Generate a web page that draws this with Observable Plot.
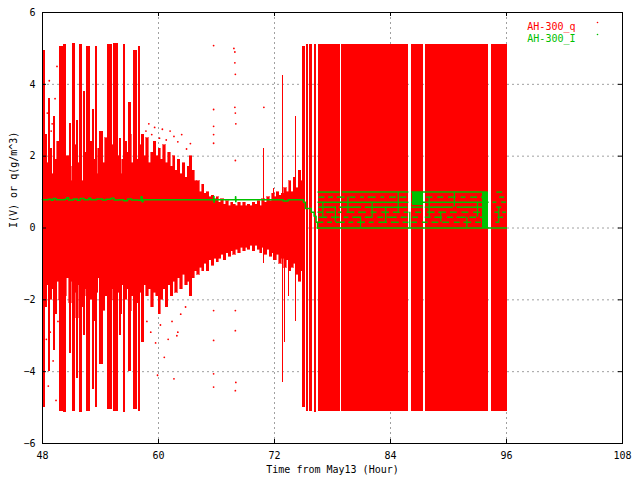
<!DOCTYPE html>
<html><head><meta charset="utf-8">
<script src="https://cdn.jsdelivr.net/npm/d3@7"></script>
<script src="https://cdn.jsdelivr.net/npm/@observablehq/plot@0.6"></script>
<style>body{margin:0;background:#fff;}</style>
</head><body><div id="chart"></div>
<script>
// ---- axes ----
const xTicks = [48, 60, 72, 84, 96, 108];
const yTicks = [-6, -4, -2, 0, 2, 4, 6];
const xTitle = "Time from May13 (Hour)";
const yTitle = "I(V) or q(g/m^3)";
const seriesNames = ["AH-300_q", "AH-300_I"];

// ---- q : dense envelope, 0.25 h bins, 48 - 75 h ----
const coreStep = 0.25;
const coreT = [48.00,48.25,48.50,48.75,49.00,49.25,49.50,49.75,50.00,50.25,50.50,50.75,
51.00,51.25,51.50,51.75,52.00,52.25,52.50,52.75,53.00,53.25,53.50,53.75,54.00,54.25,54.50,54.75,
55.00,55.25,55.50,55.75,56.00,56.25,56.50,56.75,57.00,57.25,57.50,57.75,58.00,58.25,58.50,58.75,
59.00,59.25,59.50,59.75,60.00,60.25,60.50,60.75,61.00,61.25,61.50,61.75,62.00,62.25,62.50,62.75,
63.00,63.25,63.50,63.75,64.00,64.25,64.50,64.75,65.00,65.25,65.50,65.75,66.00,66.25,66.50,66.75,
67.00,67.25,67.50,67.75,68.00,68.25,68.50,68.75,69.00,69.25,69.50,69.75,70.00,70.25,70.50,70.75,
71.00,71.25,71.50,71.75,72.00,72.25,72.50,72.75,73.00,73.25,73.50,73.75,74.00,74.25,74.50,74.75];
const coreHi = [2.0,2.6,1.8,2.2, 1.5,1.9,2.4,1.6, 1.4,1.2,2.0,1.7, 1.3,2.3,1.5,1.8, 1.3,2.1,1.6,1.2,
2.4,1.9,1.5,2.2, 2.6,1.8,2.5,2.1, 1.7,2.3,1.6,2.0, 1.5,1.9,2.4,2.1, 2.6,1.8,2.2,1.9, 2.3,1.7,2.0,2.5,
1.8,2.1,2.4,2.0, 2.2,1.9,2.3,1.8, 2.1,1.7,2.0,1.6, 1.9,1.5,1.8,1.4, 1.7,2.0,1.6,1.3,
1.3,1.0,1.2,0.95, 1.0,0.85,0.9,0.8, 0.85,0.7,0.8,0.65, 0.75,0.6,0.7,0.65, 0.6,0.7,0.6,0.7,
0.6,0.65,0.6,0.7, 0.65,0.75,0.6,0.8, 0.7,0.85,0.75,0.95, 0.85,1.0,0.9,0.95, 1.1,1.0,1.3,1.0, 1.4,1.1,1.6,1.3];
const coreLo = [-1.8,-2.2,-1.6,-2.0, -1.7,-2.4,-1.5,-2.0, -1.6,-1.9,-1.4,-2.1, -1.5,-1.8,-2.5,-1.6,
-2.2,-1.7,-1.9,-1.5, -2.0,-2.6,-1.8,-1.4, -2.1,-2.3,-1.9,-2.5, -2.0,-1.7,-2.2,-1.8, -2.4,-1.6,-2.0,-1.7,
-2.3,-1.9,-2.5,-2.1, -1.8,-2.0,-1.6,-1.9, -1.7,-2.2,-1.8,-1.9, -2.4,-2.0,-1.7,-2.2, -1.6,-1.9,-1.5,-1.8,
-1.4,-1.7,-1.3,-1.6, -1.5,-1.9,-1.4,-1.2,
-1.3,-1.1,-1.2,-1.0, -1.2,-0.9,-1.05,-0.85, -0.95,-0.85,-0.75,-0.9, -0.7,-0.8,-0.65,-0.75,
-0.6,-0.7,-0.55,-0.65, -0.55,-0.6,-0.5,-0.65, -0.5,-0.6,-0.7,-0.55, -0.75,-0.6,-0.8,-0.7,
-0.9,-0.75,-1.0,-0.85, -1.1,-0.9,-1.2,-1.1, -1.0,-1.3,-1.5,-1.2];

// ---- q : spikes ----
const spikeT0 = [48.00,49.76,50.20,51.13,51.86,52.55,53.48,54.69,55.34,56.35,57.45,57.96,
48.60,49.15,50.75,51.55,52.25,53.15,53.90,55.95,56.85,58.20,70.85,71.90,72.78,73.05,73.40,73.65,74.17];
const spikeT1 = [48.30,50.14,50.48,51.38,52.14,52.97,53.72,55.28,55.89,56.59,57.86,58.14,
48.80,49.35,50.95,51.70,52.40,53.35,54.30,56.20,57.25,58.50,70.95,72.00,72.95,73.15,73.50,73.75,74.27];
const spikeLo = [-5.00,-5.10,-5.15,-5.10,-5.15,-5.12,-5.00,-5.05,-5.12,-5.15,-5.05,-5.10,
-4.0,-3.4,-3.5,-4.2,-3.0,-4.5,-3.8,-3.0,-4.0,-3.2,-1.0,-0.9,-4.3,-3.2,-1.9,-1.1,-2.6];
const spikeHi = [4.95,5.05,5.12,5.15,5.10,5.05,5.05,5.10,5.15,5.10,4.95,5.05,
3.6,3.1,2.9,3.0,3.8,3.3,2.7,2.5,3.5,2.6,2.2,1.1,4.25,1.0,0.9,1.3,3.1];

// ---- q : saturated band, 75 - 96 h ----
const bandT0 = [74.87,75.36,75.67,76.09,76.55,78.98,86.17,87.57,94.40];
const bandT1 = [75.21,75.52,75.98,76.35,78.83,85.86,87.41,94.14,96.07];
const bandHi = [5.05,5.10,5.12,5.10,5.12,5.12,5.12,5.12,5.12];
const bandLo = [-5.00,-5.10,-5.10,-5.15,-5.12,-5.12,-5.12,-5.12,-5.10];

// ---- q : isolated points ----
const dotT = [48.5,48.7,49.0,49.3,49.5,48.9,48.4,48.6,48.8,49.1,49.4,49.6,
58.7,59.0,59.3,59.6,60.1,60.4,60.8,61.2,61.6,62.0,62.4,62.9,63.3,
58.8,59.2,59.7,60.2,60.6,61.0,61.4,61.9,62.3,62.8,59.9,61.6,62.0,
65.7,65.7,65.7,65.7,65.7,65.7,65.7,65.7,65.7,
67.8,67.9,67.9,67.95,67.9,67.95,68.0,67.95,67.95,67.95,68.0,67.95,70.9];
const dotV = [3.2,4.1,2.9,3.6,4.5,2.7,-3.1,-4.4,-2.9,-3.7,-4.8,-2.6,
2.7,2.9,2.6,2.8,2.5,2.75,2.45,2.7,2.55,2.4,2.6,2.2,2.35,
-2.6,-2.9,-3.2,-2.7,-3.6,-3.1,-2.6,-3.0,-2.4,-2.2,-4.1,-4.2,-2.9,
5.08,3.3,2.83,2.6,2.36,-2.3,-3.13,-4.06,-4.43,
5.0,4.9,4.6,4.28,3.36,3.2,2.9,1.88,-2.3,-2.86,-4.3,-4.53,3.36];

// ---- I : line before 76.5 h ----
const iLineT = [48.0,48.6,48.9,49.1,49.4,50.3,50.5,50.7,51.2,51.6,51.9,52.3,52.8,53.0,53.6,54.2,54.6,
55.1,55.4,55.9,56.4,56.8,57.2,57.9,58.2,58.3,58.4,65.7,65.72,65.74,65.76,67.95,67.97,67.99,68.01,
72.8,72.9,73.3,73.4,74.8,75.0,75.2,75.6,75.8,76.1,76.3,76.45];
const iLineV = [0.79,0.80,0.77,0.82,0.79,0.80,0.84,0.78,0.81,0.77,0.82,0.79,0.83,0.79,0.81,0.78,0.80,
0.83,0.78,0.79,0.76,0.81,0.78,0.77,0.87,0.73,0.79,0.79,0.88,0.72,0.79,0.79,0.87,0.73,0.79,
0.79,0.75,0.75,0.79,0.79,0.72,0.54,0.54,0.44,0.33,0.16,0.0];

// ---- I : quantised levels after 76.5 h (dashes) ----
const segLevel = [1.0,1.0,1.0,1.0,
0.86,0.86,0.86,0.86,0.86,0.86,0.86,0.86,0.86,0.86,0.86,0.86,0.86,0.86,0.86,0.86,0.86,
0.72,0.72,0.72,0.72,
0.58,0.58,0.58,0.58,0.58,0.58,0.58,
0.44,0.44,0.44,0.44,0.44,0.44,0.44,0.44,0.44,0.44,0.44,0.44,0.44,0.44,0.44,0.44,0.44,0.44,
0.30,0.30,0.30,0.30,0.30,0.30,0.30,0.30,0.30,0.30,0.30,0.30,0.30,0.30,0.30,0.30,
0.16,0.16,0.16,0.16,0.16,0.16,0.16,0.16,0.16,0.16,0.16,0.16,0.16,0.16,0.16,0.16,0.16,0.16,
0.0];
const segStart = [76.5,79.0,86.2,95.0,
76.6,77.6,78.5,79.8,80.9,81.7,83.0,83.9,85.0,86.3,87.7,88.9,90.0,91.3,92.3,93.4,95.3,
76.5,86.2,94.6,95.5,
76.6,78.7,81.4,86.2,87.6,90.9,95.0,
76.5,77.4,78.6,79.5,80.7,82.0,83.1,84.3,85.4,86.6,87.8,89.0,90.2,91.4,92.6,93.5,94.8,95.6,
76.6,77.9,79.2,80.1,81.4,82.7,83.7,85.1,86.3,87.6,88.6,89.9,90.9,92.2,93.3,95.1,
76.5,77.5,78.4,79.7,80.6,81.8,82.8,84.1,85.3,86.2,87.3,88.3,89.4,90.6,91.6,92.8,93.6,94.9,
76.4];
const segEnd = [78.8,85.9,94.1,95.6,
77.2,78.1,79.3,80.4,81.3,82.5,83.4,84.6,85.7,87.3,88.4,89.5,90.8,91.8,93.0,94.1,95.8,
85.9,94.2,95.0,96.0,
78.4,81.0,85.8,87.4,90.5,94.1,95.5,
77.0,78.2,79.0,80.3,81.5,82.6,83.9,85.0,85.9,87.2,88.6,89.8,90.9,92.1,93.3,94.1,95.2,96.0,
77.5,78.8,79.7,81.0,82.2,83.3,84.7,85.8,86.9,88.2,89.4,90.5,91.8,92.9,94.1,95.7,
77.1,78.0,79.3,80.2,81.4,82.3,83.7,84.9,85.9,86.8,87.9,89.0,90.1,91.2,92.4,93.4,94.1,95.3,
96.1];
const vertT  = [77.0,78.3,79.6,80.9,82.1,83.5,84.8,86.0,88.0,89.2,90.6,91.9,93.0,95.2];
const vertLo = [0.30,0.16,0.44,0.00,0.30,0.16,0.44,0.00,0.30,0.16,0.58,0.00,0.30,0.16];
const vertHi = [0.72,0.58,0.86,0.30,0.72,0.58,1.00,0.44,0.86,0.44,1.00,0.30,0.72,0.58];
const blockT0 = [86.3,93.5];
const blockT1 = [87.4,94.15];
const blockLo = [0.63,0.0];
const blockHi = [1.0,1.0];

// ---- build tables ----
const RED = "#ff0000", GREEN = "#00c000";
const core = coreT.map((t, i) => ({t0: t, t1: t + coreStep, lo: coreLo[i], hi: coreHi[i]}));
const spikes = spikeT0.map((t, i) => ({t0: t, t1: spikeT1[i], lo: spikeLo[i], hi: spikeHi[i]}));
const band = bandT0.map((t, i) => ({t0: t, t1: bandT1[i], lo: bandLo[i], hi: bandHi[i]}));
const dots = dotT.map((t, i) => ({t, v: dotV[i]}));
const iLine = iLineT.map((t, i) => ({t, v: iLineV[i]}));
const segs = segLevel.map((v, i) => ({v, t0: segStart[i], t1: segEnd[i]}));
const verts = vertT.map((t, i) => ({t, lo: vertLo[i], hi: vertHi[i]}));
const blocks = blockT0.map((t, i) => ({t0: t, t1: blockT1[i], lo: blockLo[i], hi: blockHi[i]}));

const FONT = "'DejaVu Sans Mono', monospace";
const R = {inset: 0, shapeRendering: "crispEdges"};
const chart = Plot.plot({
  width: 640, height: 480,
  marginLeft: 42, marginRight: 18, marginTop: 12, marginBottom: 37,
  style: {fontFamily: FONT, fontSize: "10px", background: "#fff", color: "#000"},
  x: {domain: [48, 108]},
  y: {domain: [-6, 6]},
  marks: [
    Plot.gridX(xTicks.slice(1, -1), {stroke: "#a0a0a0", strokeOpacity: 1, strokeDasharray: "2,3"}),
    Plot.gridY(yTicks.slice(1, -1), {stroke: "#a0a0a0", strokeOpacity: 1, strokeDasharray: "2,3"}),
    Plot.rect(core, {x1: "t0", x2: "t1", y1: "lo", y2: "hi", fill: RED, stroke: RED, strokeWidth: 0.6, ...R}),
    Plot.rect(spikes, {x1: "t0", x2: "t1", y1: "lo", y2: "hi", fill: RED, ...R}),
    Plot.rect(band, {x1: "t0", x2: "t1", y1: "lo", y2: "hi", fill: RED, ...R}),
    Plot.dot(dots, {x: "t", y: "v", r: 0.9, fill: RED}),
    Plot.line(iLine, {x: "t", y: "v", curve: "step-after", stroke: GREEN, strokeWidth: 1.5}),
    Plot.ruleY(segs, {x1: "t0", x2: "t1", y: "v", stroke: GREEN, strokeWidth: 1.5}),
    Plot.ruleX(verts, {x: "t", y1: "lo", y2: "hi", stroke: GREEN, strokeWidth: 1.2}),
    Plot.rect(blocks, {x1: "t0", x2: "t1", y1: "lo", y2: "hi", fill: GREEN, ...R}),
    Plot.frame({stroke: "#000"}),
    Plot.tickX(xTicks, {x: d => d, stroke: "#000", insetTop: 427}),
    Plot.tickX(xTicks, {x: d => d, stroke: "#000", insetBottom: 427}),
    Plot.tickY(yTicks, {y: d => d, stroke: "#000", insetRight: 576}),
    Plot.tickY(yTicks, {y: d => d, stroke: "#000", insetLeft: 576}),
    Plot.axisX({ticks: xTicks, tickSize: 0, tickPadding: 8, label: null, fontSize: 10}),
    Plot.axisY({ticks: yTicks, tickSize: 0, tickPadding: 7, label: null, fontSize: 10}),
    Plot.text([xTitle], {frameAnchor: "bottom", dy: 29, fontSize: 10, fill: "#000"}),
    Plot.text([yTitle], {frameAnchor: "left", dx: -29, rotate: -90, fontSize: 10, fill: "#000"}),
    Plot.text([seriesNames[0]], {frameAnchor: "top-right", dx: -47, dy: 10, textAnchor: "end", fontSize: 10, fill: RED}),
    Plot.text([seriesNames[1]], {frameAnchor: "top-right", dx: -47, dy: 22, textAnchor: "end", fontSize: 10, fill: GREEN}),
    Plot.dot([0], {frameAnchor: "top-right", dx: -25, dy: 10, r: 0.8, fill: RED}),
    Plot.dot([0], {frameAnchor: "top-right", dx: -25, dy: 22, r: 0.8, fill: GREEN})
  ]
});
document.getElementById("chart").appendChild(chart);
</script>
</body></html>
